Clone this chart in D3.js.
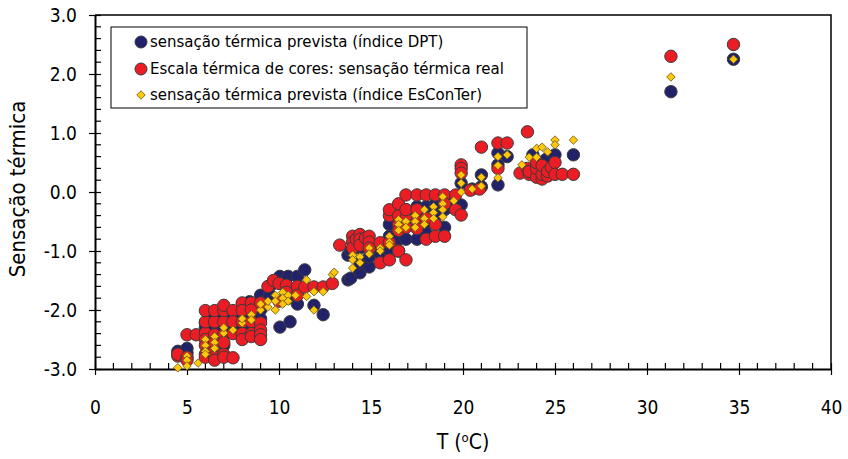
<!DOCTYPE html>
<html>
<head>
<meta charset="utf-8">
<script src="https://cdn.jsdelivr.net/npm/d3@7"></script>
<style>
  body { margin: 0; background: #fff; }
  svg { font-family: "DejaVu Sans Condensed", "DejaVu Sans", sans-serif; }
</style>
</head>
<body>
<div id="chart"></div>
<script>
// Series names (legend order = drawing order)
const seriesNames = [
    "sensação térmica prevista (índice DPT)",
    "Escala térmica de cores: sensação térmica real",
    "sensação térmica prevista (índice EsConTer)"
];

// [T, sensação] pairs
const dptData = [
    [4.5,-2.7],[5.0,-2.73],[5.0,-2.65],[6.0,-2.22],[6.0,-2.4],[6.0,-2.3],[6.5,-2.3],[6.5,-2.1],
    [6.5,-2.45],[7.0,-2.6],[7.0,-2.0],[7.0,-2.3],[7.5,-2.1],[7.5,-2.25],[8.0,-1.95],[8.0,-2.3],
    [8.4,-1.86],[8.5,-2.1],[8.5,-2.25],[9.0,-1.75],[9.0,-2.0],[9.0,-2.15],[9.5,-1.6],[9.5,-1.75],
    [10.05,-1.43],[10.05,-2.29],[10.5,-1.43],[10.6,-2.2],[10.5,-1.8],[11.0,-1.43],[11.0,-1.9],
    [11.4,-1.32],[11.9,-1.92],[12.4,-2.08],
    [13.75,-1.07],[13.75,-1.49],[13.9,-1.46],[13.9,-1.0],[14.4,-1.37],[14.4,-0.95],[14.4,-1.2],
    [14.9,-1.27],[14.9,-0.85],[14.9,-1.1],[15.5,-0.9],[15.5,-1.05],[16.0,-1.0],[16.0,-0.55],
    [16.0,-0.75],[16.5,-0.3],[16.5,-0.55],[16.5,-0.8],[16.5,-1.0],[16.9,-0.4],[16.9,-0.8],
    [16.9,-0.3],[17.5,-0.35],[17.5,-0.8],[17.5,-0.25],[18.0,-0.55],[18.0,-0.7],[18.0,-0.25],
    [18.5,-0.53],[18.5,-0.2],[18.5,-0.4],[19.0,-0.6],[19.0,-0.3],[19.5,-0.1],[19.5,-0.27],
    [19.9,-0.22],[19.9,0.15],[20.5,0.05],[21.0,0.29],[21.0,0.09],[21.9,0.66],[21.9,0.46],
    [21.9,0.12],[22.4,0.6],[23.8,0.63],[24.2,0.5],[24.5,0.55],[25.0,0.63],[26.0,0.63],
    [31.3,1.7],[34.7,2.25]
];

const realData = [
    [4.5,-2.78],[4.5,-2.75],[5.0,-2.42],[5.0,-2.8],[5.0,-2.85],[5.5,-2.42],
    [6.0,-2.39],[6.0,-2.2],[6.0,-2.01],[6.0,-2.5],[6.0,-2.6],[6.0,-2.75],[6.0,-2.8],
    [6.5,-2.2],[6.5,-2.01],[6.5,-2.42],[6.5,-2.7],[6.5,-2.8],[6.5,-2.85],[6.5,-2.55],
    [7.0,-2.2],[7.0,-2.01],[7.0,-1.92],[7.0,-2.42],[7.0,-2.75],[7.0,-2.8],[7.0,-2.55],
    [7.5,-2.01],[7.5,-2.2],[7.5,-2.4],[7.5,-2.81],[8.0,-1.88],[8.0,-2.01],[8.0,-2.2],
    [8.0,-2.4],[8.0,-2.5],[8.5,-1.88],[8.5,-2.0],[8.5,-2.2],[8.5,-2.4],[8.5,-2.45],
    [9.0,-1.88],[9.0,-2.22],[9.0,-2.34],[9.0,-2.42],[9.0,-2.5],[9.4,-1.6],[9.7,-1.5],
    [10.0,-1.55],[10.0,-1.85],[10.4,-1.58],[10.4,-1.7],[11.0,-1.6],[11.0,-1.75],[11.4,-1.61],
    [11.9,-1.61],[12.4,-1.61],[12.9,-1.55],
    [13.3,-0.9],[14.0,-0.75],[14.0,-0.85],[14.0,-0.95],[14.2,-0.8],[14.4,-0.72],[14.4,-0.8],
    [14.4,-0.9],[14.7,-0.78],[14.9,-0.75],[14.9,-0.85],[14.9,-0.95],[15.5,-0.86],[15.5,-1.2],
    [16.0,-0.86],[16.0,-1.15],[16.0,-0.4],[16.0,-0.3],[16.5,-0.4],[16.5,-0.55],[16.5,-0.65],
    [16.5,-0.2],[16.5,-1.0],[16.9,-0.05],[16.9,-0.45],[16.9,-0.6],[16.9,-0.3],[16.9,-1.15],
    [17.5,-0.05],[17.5,-0.5],[17.5,-0.62],[17.5,-0.3],[18.0,-0.05],[18.0,-0.45],[18.0,-0.8],
    [18.5,-0.05],[18.5,-0.55],[18.5,-0.75],[19.0,-0.05],[19.0,-0.2],[19.0,-0.75],
    [19.6,-0.05],[19.6,-0.3],[19.9,0.46],[19.9,0.4],[19.9,0.32],[19.9,-0.39],[20.4,0.03],
    [20.9,0.05],[21.0,0.76],[21.9,0.83],[21.9,0.4],[22.4,0.83],[23.1,0.32],[23.5,1.02],
    [23.5,0.4],[23.6,0.3],[23.6,0.35],[24.0,0.25],[24.0,0.4],[24.0,0.5],[24.3,0.22],
    [24.3,0.3],[24.3,0.45],[24.6,0.27],[24.6,0.35],[24.8,0.42],[25.0,0.5],[25.0,0.3],
    [25.4,0.3],[26.0,0.3],[31.3,2.3],[34.7,2.5]
];

const esconterData = [
    [4.5,-2.98],[5.0,-2.78],[5.0,-2.85],[5.0,-2.95],[5.6,-2.9],[6.0,-2.5],[6.0,-2.6],
    [6.0,-2.7],[6.0,-2.75],[6.5,-2.45],[6.5,-2.55],[6.5,-2.65],[7.0,-2.39],[7.0,-2.3],
    [7.5,-2.34],[8.0,-2.22],[8.0,-2.15],[8.5,-2.08],[8.5,-2.17],[9.0,-2.0],[9.0,-1.9],
    [9.4,-1.95],[9.4,-1.85],[9.8,-1.75],[9.8,-1.85],[9.8,-2.0],[10.2,-1.7],[10.2,-1.8],
    [10.2,-1.9],[10.5,-1.75],[10.5,-1.85],[10.9,-1.75],[11.5,-1.49],[11.5,-1.77],
    [11.9,-1.69],[11.9,-2.0],[12.4,-1.69],[12.9,-1.4],[13.0,-1.36],[14.0,-1.07],[14.0,-1.15],
    [14.0,-1.29],[14.4,-1.1],[14.4,-1.2],[14.9,-0.95],[14.9,-1.05],[15.5,-0.95],[15.5,-1.0],
    [16.0,-0.75],[16.0,-0.85],[16.0,-0.9],[16.5,-0.47],[16.5,-0.55],[16.5,-0.65],
    [16.9,-0.5],[16.9,-0.6],[17.4,-0.4],[17.4,-0.5],[17.4,-0.6],[17.9,-0.3],[17.9,-0.45],
    [17.9,-0.55],[18.4,-0.25],[18.4,-0.35],[18.4,-0.45],[18.9,-0.08],[18.9,-0.2],[18.9,-0.3],
    [18.9,-0.42],[19.5,-0.15],[19.9,0.29],[19.9,0.15],[19.9,0.0],[20.5,0.05],[21.0,0.25],
    [21.0,0.1],[21.9,0.6],[21.9,0.45],[21.9,0.24],[22.4,0.63],[23.2,0.46],[23.6,0.59],
    [24.0,0.74],[24.0,0.59],[24.3,0.76],[24.6,0.68],[25.0,0.88],[25.0,0.8],[26.0,0.88],
    [31.3,1.95],[34.7,2.25]
];

const xTicks = [0, 5, 10, 15, 20, 25, 30, 35, 40];
const yTicks = [-3, -2, -1, 0, 1, 2, 3];

const W = 848, H = 459;
const margin = {top: 15, right: 17, bottom: 90, left: 95};
const width = W - margin.left - margin.right,
      height = H - margin.top - margin.bottom;

const x = d3.scaleLinear().domain([0, 40]).range([0, width]);
const y = d3.scaleLinear().domain([-3, 3]).range([height, 0]);

const svg = d3.select("#chart").append("svg")
    .attr("width", W)
    .attr("height", H)
    .append("g")
    .attr("transform", "translate(" + margin.left + "," + margin.top + ")");

// frame (top + right)
svg.append("path")
    .attr("d", "M0,0H" + width + "V" + height)
    .attr("fill", "none")
    .attr("stroke", "#000")
    .attr("stroke-width", 1.5);

// minor ticks, inside the plot
svg.append("g").selectAll("line")
    .data(d3.range(1, 40).filter(v => v % 5 !== 0))
    .join("line")
    .attr("x1", d => x(d)).attr("x2", d => x(d))
    .attr("y1", height).attr("y2", height - 6)
    .attr("stroke", "#000").attr("stroke-width", 1.2);

svg.append("g").selectAll("line")
    .data(d3.range(-30, 30, 2).filter(v => v % 10 !== 0).map(v => v / 10))
    .join("line")
    .attr("y1", d => y(d)).attr("y2", d => y(d))
    .attr("x1", 0).attr("x2", 6)
    .attr("stroke", "#000").attr("stroke-width", 1.2);

// x axis
const xAxis = svg.append("g")
    .attr("transform", "translate(0," + height + ")")
    .call(d3.axisBottom(x).tickValues(xTicks).tickSize(6).tickSizeOuter(0).tickPadding(26));
xAxis.selectAll(".tick line").attr("y1", -6).attr("stroke-width", 1.2);
xAxis.select(".domain").attr("stroke-width", 2);
xAxis.selectAll("text").attr("font-size", 19).attr("fill", "#000")
    .attr("font-family", "DejaVu Sans Condensed, DejaVu Sans, sans-serif");

// y axis
const yAxis = svg.append("g")
    .call(d3.axisLeft(y).tickValues(yTicks).tickSize(6).tickSizeOuter(0).tickPadding(12)
        .tickFormat(d3.format(".1f")));
yAxis.selectAll(".tick line").attr("x1", 6).attr("stroke-width", 1.2);
yAxis.select(".domain").attr("stroke-width", 2);
yAxis.selectAll("text").attr("font-size", 19).attr("fill", "#000")
    .attr("font-family", "DejaVu Sans Condensed, DejaVu Sans, sans-serif")
    .text(d => d3.format(".1f")(d).replace("−", "-"));

// axis titles
svg.append("text")
    .attr("x", x(20)).attr("y", height + 80)
    .attr("text-anchor", "middle")
    .attr("font-size", 21)
    .attr("font-family", "DejaVu Sans Condensed, DejaVu Sans, sans-serif")
    .html("T (<tspan baseline-shift='super' font-size='13'>o</tspan>C)");

svg.append("text")
    .attr("transform", "translate(" + (-70) + "," + (height / 2 - 3) + ") rotate(-90)")
    .attr("text-anchor", "middle")
    .attr("font-size", 22)
    .attr("font-family", "DejaVu Sans Condensed, DejaVu Sans, sans-serif")
    .text("Sensação térmica");

// markers
const navy = "#22226b", red = "#ec1c24", gold = "#ffc80a";
const diamond = d3.symbol().type(d3.symbolSquare).size(36);

function circles(data, fill) {
    svg.append("g").selectAll("circle")
        .data(data)
        .join("circle")
        .attr("cx", d => x(d[0]))
        .attr("cy", d => y(d[1]))
        .attr("r", 6.2)
        .attr("fill", fill)
        .attr("stroke", "#3a3a3a")
        .attr("stroke-width", 1);
}
function diamonds(data) {
    svg.append("g").selectAll("path")
        .data(data)
        .join("path")
        .attr("d", diamond)
        .attr("transform", d => "translate(" + x(d[0]) + "," + y(d[1]) + ") rotate(45)")
        .attr("fill", gold)
        .attr("stroke", "#6b5a1a")
        .attr("stroke-width", 0.8);
}

circles(dptData, navy);
circles(realData, red);
diamonds(esconterData);

// legend
const legend = svg.append("g").attr("transform", "translate(16,12)");
legend.append("rect")
    .attr("width", 416).attr("height", 81)
    .attr("fill", "#fff").attr("stroke", "#000").attr("stroke-width", 1);

const rowY = [15, 42, 68];
legend.append("circle").attr("cx", 30).attr("cy", rowY[0]).attr("r", 6)
    .attr("fill", navy).attr("stroke", "#3a3a3a");
legend.append("circle").attr("cx", 30).attr("cy", rowY[1]).attr("r", 6)
    .attr("fill", red).attr("stroke", "#3a3a3a");
legend.append("path").attr("d", diamond)
    .attr("transform", "translate(30," + rowY[2] + ") rotate(45)")
    .attr("fill", gold).attr("stroke", "#6b5a1a").attr("stroke-width", 0.8);

seriesNames.forEach((name, i) => {
    legend.append("text")
        .attr("x", 39)
        .attr("y", rowY[i])
        .attr("dy", ".35em")
        .attr("font-size", 15)
        .attr("font-family", "DejaVu Sans, sans-serif")
        .text(name);
});
</script>
</body>
</html>
